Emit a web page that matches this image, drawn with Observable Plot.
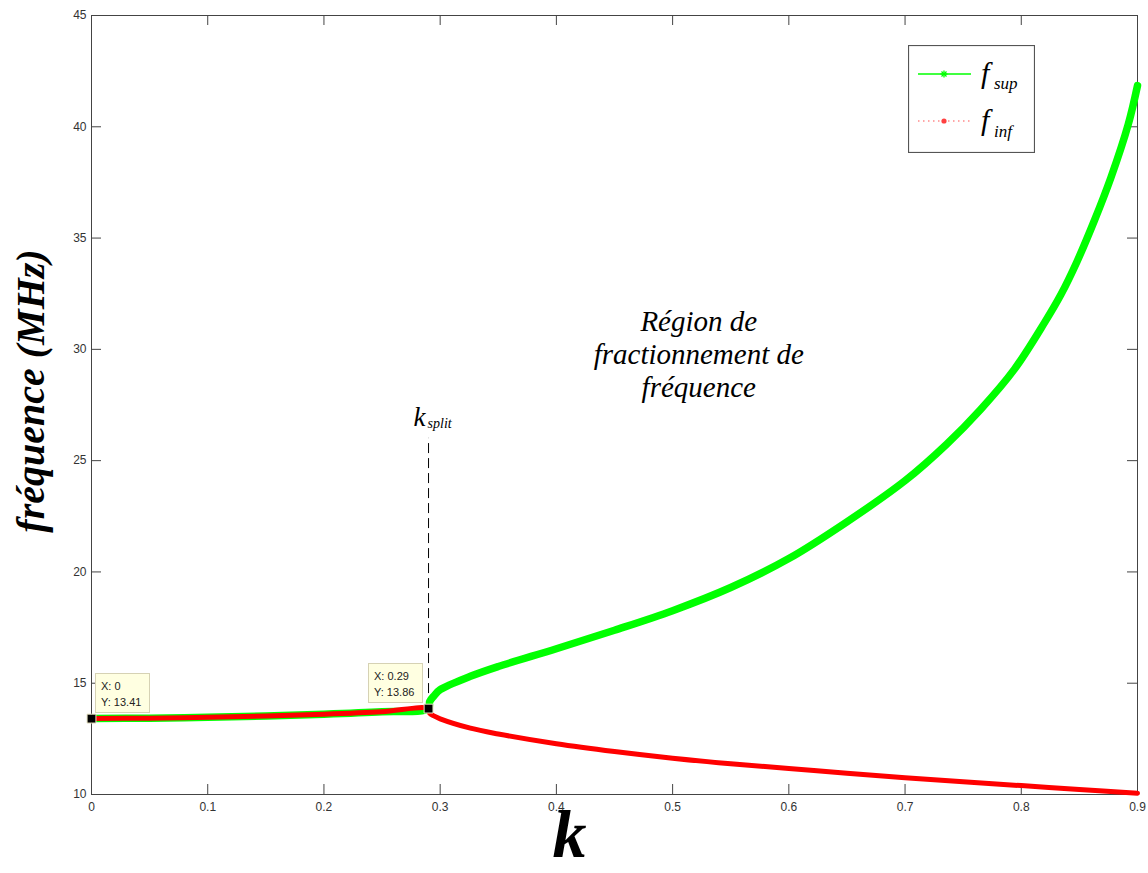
<!DOCTYPE html>
<html><head><meta charset="utf-8">
<script src="https://cdn.jsdelivr.net/npm/d3@7"></script>
<script src="https://cdn.jsdelivr.net/npm/@observablehq/plot@0.6"></script>
<style>
body{margin:0;background:#fff;}
#wrap{position:relative;width:1148px;height:873px;overflow:hidden;background:#fff;}
.tip{position:absolute;background:#ffffe1;border:1px solid #d6d2b4;font:11px "Liberation Sans",Arial,sans-serif;color:#222;padding:4px 5px 3px 5px;line-height:16px;width:43px;height:31px;box-sizing:content-box;white-space:nowrap}
</style></head><body><div id="wrap"></div>
<script>
// ---- data ----
const kSup = [0,0.05,0.1,0.15,0.2,0.25,0.29,0.291,0.295,0.3,0.326,0.35,0.4,0.45,0.5,0.55,0.6,0.65,0.7,0.736,0.765,0.794,0.82,0.834,0.848,0.863,0.877,0.892,0.9];
const fSup = [13.41,13.43,13.47,13.53,13.61,13.72,13.86,14.18,14.45,14.71,15.31,15.75,16.55,17.38,18.26,19.3,20.6,22.25,24.1,25.75,27.3,29.1,31.2,32.45,33.95,35.8,37.7,40.1,41.85];
const kInf = [0,0.05,0.1,0.15,0.2,0.25,0.29,0.291,0.295,0.3,0.326,0.35,0.4,0.45,0.5,0.55,0.6,0.65,0.7,0.75,0.8,0.85,0.9];
const fInf = [13.41,13.43,13.47,13.53,13.61,13.72,13.86,13.65,13.52,13.4,12.98,12.72,12.28,11.93,11.63,11.38,11.17,10.95,10.75,10.57,10.4,10.22,10.06];
const xTicks = [0,0.1,0.2,0.3,0.4,0.5,0.6,0.7,0.8,0.9];
const xTickLabels = ["0","0.1","0.2","0.3","0.4","0.5","0.6","0.7","0.8","0.9"];
const yTicks = [10,15,20,25,30,35,40,45];
const yTickLabels = ["10","15","20","25","30","35","40","45"];
const tipK = [0,0.29];
const tipF = [13.41,13.86];
const kSplit = 0.29, fSplit = 13.86, fSplitTop = 26;
const seriesNames = ["sup","inf"];
const annotation = "Région de\nfractionnement de\nfréquence";

// ---- layout ----
const W = 1148, H = 873, mL = 91, mR = 11, mT = 15, mB = 79;
const xDom = [0,0.9], yDom = [10,45];
const tickPx = 10;
const tickK = tickPx*(xDom[1]-xDom[0])/(W-mL-mR);
const tickF = tickPx*(yDom[1]-yDom[0])/(H-mT-mB);
const serif = '"Liberation Serif","Times New Roman",serif';

const sup = kSup.map((k,i)=>({k, f:fSup[i]}));
const inf = kInf.map((k,i)=>({k, f:fInf[i]}));
const tips = tipK.map((k,i)=>({k, f:tipF[i]}));

const plot = Plot.plot({
  width: W, height: H, marginLeft: mL, marginRight: mR, marginTop: mT, marginBottom: mB,
  x: {domain: xDom}, y: {domain: yDom},
  style: {fontFamily: '"Liberation Sans",Arial,sans-serif', fontSize: "12px", color: "#333", background: "#fff", overflow: "visible"},
  marks: [
    Plot.frame({stroke: "#444"}),
    Plot.ruleY(yTicks, {x1: xDom[0], x2: xDom[0]+tickK, stroke: "#444"}),
    Plot.ruleY(yTicks, {x1: xDom[1]-tickK, x2: xDom[1], stroke: "#444"}),
    Plot.ruleX(xTicks, {y1: yDom[0], y2: yDom[0]+tickF, stroke: "#444"}),
    Plot.ruleX(xTicks, {y1: yDom[1]-tickF, y2: yDom[1], stroke: "#444"}),
    Plot.axisX({ticks: xTicks, tickSize: 0, tickPadding: 8, label: null, fontSize: 12, tickFormat: d => xTickLabels[xTicks.indexOf(d)]}),
    Plot.axisY({ticks: yTicks, tickSize: 0, tickPadding: 5, label: null, fontSize: 12, tickFormat: d => yTickLabels[yTicks.indexOf(d)]}),
    Plot.ruleX([kSplit], {y1: fSplit, y2: fSplitTop, stroke: "#000", strokeDasharray: "10,5"}),
    Plot.line(sup, {x: "k", y: "f", stroke: "#00ff00", strokeWidth: 7.5, curve: "catmull-rom"}),
    Plot.line(inf, {x: "k", y: "f", stroke: "#ff0000", strokeWidth: 5, curve: "catmull-rom"}),
    Plot.dot(tips, {x: "k", y: "f", symbol: "square", r: 5, fill: "#000", stroke: "#e6e2c2", strokeWidth: 1}),
    Plot.text([annotation], {x: 0.5225, y: 29.8, fontFamily: serif, fontStyle: "italic", fontSize: 29, lineHeight: 1.14, textAnchor: "middle", fill: "#000"}),
    Plot.text(["k"], {x: kSplit, y: fSplitTop, textAnchor: "end", dx: -3, dy: -21, fontFamily: serif, fontStyle: "italic", fontSize: 27, fill: "#000"}),
    Plot.text(["split"], {x: kSplit, y: fSplitTop, textAnchor: "start", dx: -1, dy: -15, fontFamily: serif, fontStyle: "italic", fontSize: 14, fill: "#000"}),
    Plot.text(["fréquence (MHz)"], {frameAnchor: "left", textAnchor: "middle", rotate: -90, dx: -60, dy: -14, fontFamily: serif, fontWeight: "bold", fontStyle: "italic", fontSize: 40, fill: "#000"}),
    Plot.text(["k"], {frameAnchor: "bottom", textAnchor: "middle", dx: -45, dy: 62, fontFamily: serif, fontWeight: "bold", fontStyle: "italic", fontSize: 68, fill: "#000"})
  ]
});
const wrap = document.getElementById("wrap");
wrap.appendChild(plot);

const sx = plot.scale("x"), sy = plot.scale("y");
// data tips
function addTip(i, side) {
  const mx = sx.apply(tipK[i]), my = sy.apply(tipF[i]);
  const d = document.createElement("div");
  d.className = "tip";
  d.innerHTML = `X: ${tipK[i]}<br>Y: ${tipF[i].toFixed(2)}`;
  const w = 55, h = 40;
  d.style.left = (side === "right" ? mx + 4 : mx - 5 - w) + "px";
  d.style.top = (my - 5 - h) + "px";
  wrap.appendChild(d);
}
addTip(0, "right");
addTip(1, "left");

// legend
const ns = "http://www.w3.org/2000/svg";
const lg = document.createElementNS(ns, "svg");
const lgW = 127, lgH = 108;
lg.setAttribute("width", lgW); lg.setAttribute("height", lgH);
lg.style.position = "absolute";
lg.style.left = (sx.apply(xDom[1]) - 102 - lgW) + "px";
lg.style.top = (sy.apply(yDom[1]) + 30) + "px";
lg.innerHTML = `
 <rect x="0.5" y="0.5" width="${lgW-1}" height="${lgH-1}" fill="#fff" stroke="#555" stroke-width="1.2"/>
 <line x1="10" x2="63" y1="29" y2="29" stroke="#00ff00" stroke-width="1.5"/>
 <g stroke="#00ff00" stroke-width="1.3" transform="translate(36,29)">
   <line x1="-3.5" x2="3.5" y1="0" y2="0"/><line x1="0" x2="0" y1="-3.5" y2="3.5"/>
   <line x1="-2.5" x2="2.5" y1="-2.5" y2="2.5"/><line x1="-2.5" x2="2.5" y1="2.5" y2="-2.5"/>
 </g>
 <line x1="10" x2="63" y1="76" y2="76" stroke="#ff5050" stroke-width="1.2" stroke-dasharray="1.5,3.5"/>
 <circle cx="36" cy="76" r="2.6" fill="#ff4040"/>
 <text x="73" y="38" font-family='${serif}' font-style="italic" font-size="30">f</text>
 <text x="86" y="44" font-family='${serif}' font-style="italic" font-size="17">${seriesNames[0]}</text>
 <text x="73" y="85" font-family='${serif}' font-style="italic" font-size="30">f</text>
 <text x="86" y="92" font-family='${serif}' font-style="italic" font-size="17">${seriesNames[1]}</text>`;
wrap.appendChild(lg);
</script>
</body></html>
